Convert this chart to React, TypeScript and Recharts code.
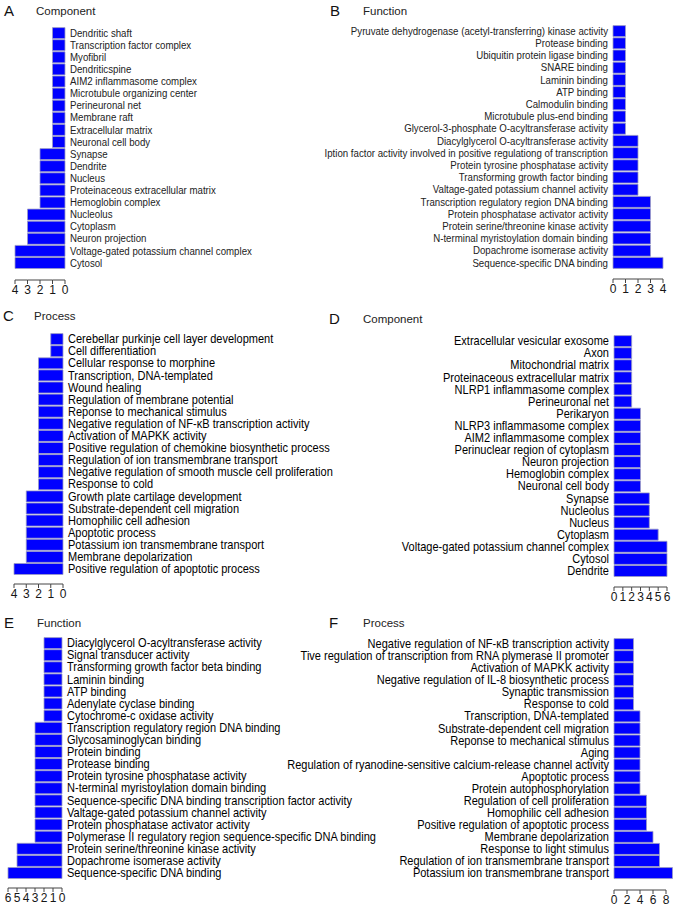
import React from 'react';
import { BarChart, Bar, XAxis, YAxis } from 'recharts';

// ---------- Data ----------
const aLabels = [
  'Dendritic shaft', 'Transcription factor complex', 'Myofibril', 'Dendriticspine',
  'AIM2 inflammasome complex', 'Microtubule organizing center', 'Perineuronal net',
  'Membrane raft', 'Extracellular matrix', 'Neuronal cell body', 'Synapse', 'Dendrite',
  'Nucleus', 'Proteinaceous extracellular matrix', 'Hemoglobin complex', 'Nucleolus',
  'Cytoplasm', 'Neuron projection', 'Voltage-gated potassium channel complex', 'Cytosol',
];
const aValues = [1, 1, 1, 1, 1, 1, 1, 1, 1, 1, 2, 2, 2, 2, 2, 3, 3, 3, 4, 4];
const aTicks = [0, 1, 2, 3, 4];

const bLabels = [
  'Pyruvate dehydrogenase (acetyl-transferring) kinase activity', 'Protease binding',
  'Ubiquitin protein ligase binding', 'SNARE binding', 'Laminin binding', 'ATP binding',
  'Calmodulin binding', 'Microtubule plus-end binding',
  'Glycerol-3-phosphate O-acyltransferase activity', 'Diacylglycerol O-acyltransferase activity',
  'Iption factor activity involved in positive regulationg of transcription',
  'Protein tyrosine phosphatase activity', 'Transforming  growth factor binding',
  'Valtage-gated potassium channel activity', 'Transcription regulatory region DNA binding',
  'Protein phosphatase activator activity', 'Protein serine/threonine kinase activity',
  'N-terminal myristoylation domain binding', 'Dopachrome isomerase activity',
  'Sequence-specific DNA binding',
];
const bValues = [1, 1, 1, 1, 1, 1, 1, 1, 1, 2, 2, 2, 2, 2, 3, 3, 3, 3, 3, 4];
const bTicks = [0, 1, 2, 3, 4];

const cLabels = [
  'Cerebellar purkinje cell layer development', 'Cell differentiation',
  'Cellular response to morphine', 'Transcription, DNA-templated', 'Wound healing',
  'Regulation of membrane potential', 'Reponse to mechanical stimulus',
  'Negative regulation of NF-\u03baB transcription activity', 'Activation of MAPKK activity',
  'Positive regulation of chemokine biosynthetic process',
  'Regulation of ion transmembrane transport',
  'Negative regulation of smooth muscle cell proliferation', 'Response to cold',
  'Growth plate cartilage development', 'Substrate-dependent cell migration',
  'Homophilic cell adhesion', 'Apoptotic process', 'Potassium ion transmembrane transport',
  'Membrane depolarization', 'Positive regulation of apoptotic process',
];
const cValues = [1, 1, 2, 2, 2, 2, 2, 2, 2, 2, 2, 2, 2, 3, 3, 3, 3, 3, 3, 4];
const cTicks = [0, 1, 2, 3, 4];

const dLabels = [
  'Extracellular vesicular exosome', 'Axon', 'Mitochondrial matrix',
  'Proteinaceous extracellular matrix', 'NLRP1 inflammasome complex', 'Perineuronal net',
  'Perikaryon', 'NLRP3 inflammasome complex', 'AIM2 inflammasome complex',
  'Perinuclear region of cytoplasm', 'Neuron projection', 'Hemoglobin complex',
  'Neuronal cell body', 'Synapse', 'Nucleolus', 'Nucleus', 'Cytoplasm',
  'Voltage-gated potassium channel complex', 'Cytosol', 'Dendrite',
];
const dValues = [2, 2, 2, 2, 2, 2, 3, 3, 3, 3, 3, 3, 3, 4, 4, 4, 5, 6, 6, 6];
const dTicks = [0, 1, 2, 3, 4, 5, 6];

const eLabels = [
  'Diacylglycerol O-acyltransferase activity', 'Signal transducer activity',
  'Transforming growth factor beta binding', 'Laminin binding', 'ATP binding',
  'Adenylate cyclase binding', 'Cytochrome-c oxidase activity',
  'Transcription regulatory region DNA binding', 'Glycosaminoglycan binding',
  'Protein binding', 'Protease binding', 'Protein tyrosine phosphatase activity',
  'N-terminal myristoylation domain binding',
  'Sequence-specific DNA binding transcription factor activity',
  'Valtage-gated potassium channel activity', 'Protein phosphatase activator activity',
  'Polymerase II regulatory region sequence-specific DNA binding',
  'Protein serine/threonine kinase activity', 'Dopachrome isomerase activity',
  'Sequence-specific DNA binding',
];
const eValues = [2, 2, 2, 2, 2, 2, 2, 3, 3, 3, 3, 3, 3, 3, 3, 3, 3, 5, 5, 6];
const eTicks = [0, 1, 2, 3, 4, 5, 6];

const fLabels = [
  'Negative regulation of NF-\u03baB transcription activity',
  'Tive regulation of transcription from RNA plymerase II promoter',
  'Activation of MAPKK activity', 'Negative regulation of IL-8 biosynthetic process',
  'Synaptic transmission', 'Response to cold', 'Transcription, DNA-templated',
  'Substrate-dependent cell migration', 'Reponse to mechanical stimulus', 'Aging',
  'Regulation of ryanodine-sensitive calcium-release channel activity',
  'Apoptotic process', 'Protein autophosphorylation', 'Regulation of cell proliferation',
  'Homophilic cell adhesion', 'Positive regulation of apoptotic process',
  'Membrane depolarization', 'Response to light stimulus',
  'Regulation of ion transmembrane transport', 'Potassium ion transmembrane transport',
];
const fValues = [3, 3, 3, 3, 3, 3, 4, 4, 4, 4, 4, 4, 4, 5, 5, 5, 6, 7, 7, 9];
const fTicks = [0, 2, 4, 6, 8];

// ---------- Styling ----------
const FONT = '"Liberation Sans", Arial, Helvetica, sans-serif';
const AXIS = '#444';
const BAR = '#0000ff';
const BAR_STROKE = '#9c9cc4';

type PanelProps = {
  labels: string[];
  values: number[];
  ticks: number[];
  domainMax: number;
  side: 'left' | 'right'; // left: bars grow to the left, labels on right
  left: number;
  top: number;
  width: number;
  height: number;
  margin: { top: number; right: number; bottom: number; left: number };
  yWidth: number;
  padBottom: number;
  fontSize: number;
  sx: number;
  color: string;
};

function Panel(p: PanelProps) {
  const data = p.labels.map((name, i) => ({ name, value: p.values[i] }));
  const state = React.useRef<{ prev: number | null }>({ prev: null });
  const TS = 4;
  const TM = 1;

  const xTick = (props: any) => {
    const { x, y, payload, index } = props;
    if (index === 0) state.current.prev = null;
    const ay = y - TS - TM;
    const prev = state.current.prev;
    state.current.prev = x;
    return (
      <g key={`xt-${index}`}>
        {prev !== null && <line x1={prev} x2={x} y1={ay} y2={ay} stroke={AXIS} strokeWidth={1} />}
        <line x1={x} x2={x} y1={ay} y2={ay + TS} stroke={AXIS} strokeWidth={1} />
        <text x={x} y={y} dy="0.72em" textAnchor="middle" fontSize={12} fill="#161616" fontFamily={FONT}>
          {payload.value}
        </text>
      </g>
    );
  };

  const yTick = (props: any) => {
    const { x, y, payload, index } = props;
    const anchor = p.side === 'left' ? 'start' : 'end';
    return (
      <text
        key={`yt-${index}`}
        x={0}
        y={0}
        transform={`translate(${x},${y}) scale(${p.sx},1)`}
        dominantBaseline="central"
        textAnchor={anchor}
        fontSize={p.fontSize}
        fill={p.color}
        fontFamily={FONT}
      >
        {payload.value}
      </text>
    );
  };

  return (
    <div style={{ position: 'absolute', left: p.left, top: p.top, width: p.width, height: p.height }}>
      <BarChart
        width={p.width}
        height={p.height}
        data={data}
        layout="vertical"
        margin={p.margin}
        barCategoryGap={0.6}
      >
        <XAxis
          type="number"
          dataKey="value"
          domain={[0, p.domainMax]}
          ticks={p.ticks}
          reversed={p.side === 'left'}
          axisLine={false}
          tickLine={false}
          tickSize={TS}
          tickMargin={TM}
          height={22}
          interval={0}
          tick={xTick}
          allowDecimals={false}
        />
        <YAxis
          type="category"
          dataKey="name"
          orientation={p.side === 'left' ? 'right' : 'left'}
          width={p.yWidth}
          axisLine={false}
          tickLine={false}
          tickSize={3}
          tickMargin={2}
          interval={0}
          padding={{ top: 0, bottom: p.padBottom }}
          tick={yTick}
        />
        <Bar dataKey="value" fill={BAR} stroke={BAR_STROKE} strokeWidth={0.8} isAnimationActive={false} />
      </BarChart>
    </div>
  );
}

const Title = ({ x, y, letter, title, tx }: { x: number; y: number; letter: string; title: string; tx: number }) => (
  <>
    <div style={{ position: 'absolute', left: x, top: y - 9, fontFamily: FONT, fontSize: 15, lineHeight: '18px', color: '#111' }}>
      {letter}
    </div>
    <div style={{ position: 'absolute', left: tx, top: y - 8, fontFamily: FONT, fontSize: 11.5, lineHeight: '16px', color: '#222' }}>
      {title}
    </div>
  </>
);

const SMALL = { fontSize: 11, sx: 0.88, color: '#222' };
const LARGE = { fontSize: 12, sx: 0.92, color: '#000' };

export default function App() {
  return (
    <div style={{ position: 'absolute', left: 0, top: 0, width: 677, height: 909, background: '#fff', overflow: 'hidden' }}>
      <Title x={4} y={11} letter="A" title="Component" tx={36} />
      <Title x={330} y={11} letter="B" title="Function" tx={363} />
      <Title x={3} y={316} letter="C" title="Process" tx={34} />
      <Title x={329} y={319} letter="D" title="Component" tx={363} />
      <Title x={4} y={623} letter="E" title="Function" tx={37} />
      <Title x={329} y={623} letter="F" title="Process" tx={363} />

      <Panel labels={bLabels} values={bValues} ticks={bTicks} domainMax={4} side="right"
        left={200} top={0} width={477} height={310}
        margin={{ top: 25, right: 14, bottom: 9, left: 0 }} yWidth={413} padBottom={10} {...SMALL} />
      <Panel labels={dLabels} values={dValues} ticks={dTicks} domainMax={6} side="right"
        left={200} top={300} width={477} height={312}
        margin={{ top: 35, right: 10, bottom: 3, left: 0 }} yWidth={414} padBottom={10} {...LARGE} />
      <Panel labels={fLabels} values={fValues} ticks={fTicks} domainMax={9} side="right"
        left={200} top={600} width={477} height={309}
        margin={{ top: 38, right: 4.5, bottom: -3, left: 0 }} yWidth={414} padBottom={11} {...LARGE} />

      <Panel labels={aLabels} values={aValues} ticks={aTicks} domainMax={4} side="left"
        left={0} top={0} width={420} height={310}
        margin={{ top: 27, right: 5, bottom: 8, left: 15 }} yWidth={350} padBottom={11} {...SMALL} />
      <Panel labels={cLabels} values={cValues} ticks={cTicks} domainMax={4} side="left"
        left={0} top={300} width={420} height={310}
        margin={{ top: 33, right: 5, bottom: 4, left: 14 }} yWidth={352} padBottom={9} {...LARGE} />
      <Panel labels={eLabels} values={eValues} ticks={eTicks} domainMax={6} side="left"
        left={0} top={600} width={420} height={309}
        margin={{ top: 37, right: 5, bottom: -1, left: 8 }} yWidth={353} padBottom={9} {...LARGE} />
    </div>
  );
}
